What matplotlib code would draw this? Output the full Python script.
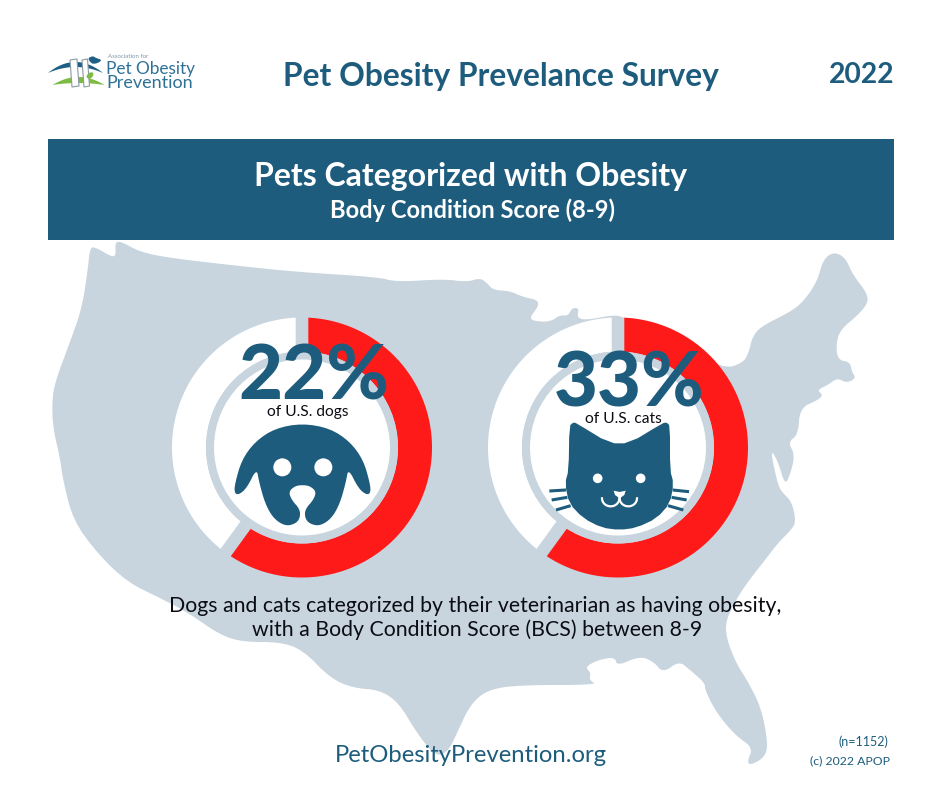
import numpy as np
import matplotlib
matplotlib.use("Agg")
import matplotlib.pyplot as plt
from matplotlib.patches import Polygon, Circle, Rectangle

# ---- data
pet_labels = ["22%", "33%"]
pet_captions = ["of U.S. dogs", "of U.S. cats"]
ring_share_red = [60.0, 60.0]      # drawn length of the red arc, percent of the ring
NAVY = "#1d5c7d"; MAP = "#c8d5de"; RED = "#ff1a1a"; INK = "#0c0c14"; LOGO = "#2f7196"

plt.rcParams['font.family'] = ['Lato', 'DejaVu Sans']
fig = plt.figure(figsize=(9.4, 7.88), dpi=100, facecolor="white")
ax = fig.add_axes([0, 0, 1, 1])
ax.set_xlim(0, 940); ax.set_ylim(788, 0); ax.axis("off")
def px(p): return p * 0.72

def chaikin(pts, n=1):
    pts = np.asarray(pts, float)
    for _ in range(n):
        nxt = np.roll(pts, -1, axis=0)
        pts = np.stack([0.75 * pts + 0.25 * nxt, 0.25 * pts + 0.75 * nxt], axis=1).reshape(-1, 2)
    return pts

map_outline = [
 (90,247),(97,248),(112,257),(116,255),(115,243),(120,241),(140,252),(170,258),(230,265),(297,272),
 (377,277),(397,282),(443,279),(467,282),(480,278),(487,283),(493,290),(510,291),(523,297),(538,300),
 (538,307),(530,317),(533,321),(550,322),(560,315),(568,316),(572,308),(579,308),(577,318),(587,320),
 (613,315),(624,317),(670,340),(723,369),(743,363),(749,352),(752,338),(760,327),(790,312),(803,302),
 (817,282),(823,260),(833,252),(845,257),(853,275),(867,293),(868,303),(858,315),(840,330),(836,345),
 (838,360),(850,362),(852,372),(856,378),(847,383),(837,378),(828,385),(817,390),(823,395),(818,400),
 (800,408),(798,435),(788,442),(795,455),(790,475),(785,485),(778,462),(772,451),(772,458),(778,485),
 (782,492),(792,502),(796,522),(791,530),(778,543),(765,560),(747,583),(736,600),(726,620),(726,637),
 (736,663),(747,680),(761,707),(768,743),(765,757),(751,765),(747,762),(753,748),(738,737),(728,727),
 (715,710),(705,690),(705,683),(690,670),(679,661),(663,673),(654,662),(640,656),(617,666),(615,657),
 (598,660),(585,667),(591,673),(589,680),(598,685),(518,685),(487,690),(470,705),(457,733),(449,750),
 (439,756),(430,750),(415,730),(399,703),(380,690),(353,688),(330,678),(303,650),(280,642),(243,642),
 (220,635),(187,612),(160,598),(127,582),(97,553),(73,520),(63,480),(60,458),(53,428),(52,402),(55,382),
 (70,342),(82,308),(88,268)]
ax.add_patch(Polygon(chaikin(map_outline, 2), closed=True, fc=MAP, ec="none", zorder=1))

# banner and titles
ax.add_patch(Rectangle((48, 139), 846, 101, fc=NAVY, ec="none", zorder=2))
ax.text(501, 76, "Pet Obesity Prevelance Survey", color=NAVY, fontsize=px(31.8), fontweight="bold", ha="center", va="center", zorder=5)
ax.text(862, 75, "2022", color=NAVY, fontsize=px(28.2), fontweight="bold", ha="center", va="center", zorder=5)
ax.text(470.5, 176, "Pets Categorized with Obesity", color="white", fontsize=px(32), fontweight="bold", ha="center", va="center", zorder=5)
ax.text(473, 210, "Body Condition Score (8-9)", color="white", fontsize=px(23.8), fontweight="bold", ha="center", va="center", zorder=5)

# logo
t = np.linspace(-1, 1, 40)
ax.add_patch(Polygon(np.r_[np.c_[75.5 + 27.5*t, 62 + 11*t**2], np.c_[(75.5 + 27.5*t)[::-1], (67 + 6*t**2)[::-1]]], fc="#1f5f85", ec="none", zorder=3))
ax.add_patch(Polygon(np.r_[np.c_[78.5 + 26*t, 77 + 8*t**2], np.c_[(78.5 + 26*t)[::-1], (83 + 2*t**2)[::-1]]], fc="#7dbb45", ec="none", zorder=3))
for x0, w in [(70, 7), (82, 5.5)]:
    ax.add_patch(Polygon([(x0, 60), (x0 + w, 59), (x0 + w + 2, 86), (x0 + 2, 87)], fc="white", ec="#8d9aa3", lw=0.8, zorder=4))
ax.add_patch(Polygon(chaikin([(88,58),(93,56),(96,58),(102,60),(98,63),(93,64),(90,62)], 1), fc="#1f5f85", ec="none", zorder=4))
ax.add_patch(Polygon(chaikin([(86,76),(90,72),(94,73),(92,78),(88,79)], 1), fc="#7dbb45", ec="none", zorder=4))
ax.text(108, 56, "Association for", color="#7f98a8", fontsize=px(6.2), ha="left", va="center", zorder=5)
ax.text(106.5, 69, "Pet Obesity", color=LOGO, fontsize=px(17.2), ha="left", va="center", zorder=5)
ax.text(106.5, 82.5, "Prevention", color=LOGO, fontsize=px(18), ha="left", va="center", zorder=5)

def sector(cx, cy, r_in, r_out, a0, a1, half_gap):
    """Ring sector with parallel-sided gaps; angles in degrees, clockwise from the top."""
    def arc(r, a, b):
        da = np.degrees(np.arcsin(half_gap / r))
        th = np.radians(np.linspace(a + da, b - da, 160))
        return np.c_[cx + r * np.sin(th), cy - r * np.cos(th)]
    return np.r_[arc(r_out, a0, a1), arc(r_in, a0, a1)[::-1]]

R_OUT, R_IN, R_GREY, GAP = 130, 96, 88, 6.3
CY = 447.5
centers = [302, 618]
for cx, share in zip(centers, ring_share_red):
    cut = 3.6 * share
    ax.add_patch(Polygon(sector(cx, CY, R_IN, R_OUT, cut, 360, GAP), fc="white", ec="none", zorder=3))
    ax.add_patch(Polygon(sector(cx, CY, R_IN, R_OUT, 0, cut, GAP), fc=RED, ec="none", zorder=3))
    ax.add_patch(Circle((cx, CY), R_IN, fc=MAP, ec="none", zorder=3))
    ax.add_patch(Circle((cx, CY), R_GREY, fc="white", ec="none", zorder=3))

# dog icon
def dz(p): return [(150 + x/3, 300 + y/3) for x, y in p]
dog = dz([(457,370),(540,385),(600,425),(640,480),(660,550),(662,578),(650,585),(625,565),(595,505),(588,545),
          (570,610),(545,655),(510,678),(480,672),(465,655),(465,628),(490,600),(499,575),(480,558),(457,555),
          (435,558),(416,575),(425,600),(450,628),(450,655),(435,672),(405,678),(370,655),(345,610),(327,545),
          (320,505),(290,565),(265,585),(253,578),(255,550),(275,480),(315,425),(375,385)])
ax.add_patch(Polygon(chaikin(dog, 2), fc=NAVY, ec="none", zorder=4))
for x, y in dz([(397,502),(520,502)]):
    ax.add_patch(Circle((x, y), 9, fc="white", ec="none", zorder=5))

# cat icon
def cz(p): return [(470 + x/3, 300 + y/3) for x, y in p]
cat = cz([(298,378),(310,367),(320,370),(418,430),(478,430),(577,370),(590,367),(600,378),(600,510),(611,550),
          (600,610),(560,655),(500,683),(448,690),(395,683),(340,655),(297,610),(285,550),(296,510)])
ax.add_patch(Polygon(chaikin(cat, 1), fc=NAVY, ec="none", zorder=4))
for x, y in cz([(383,535),(512,535)]):
    ax.add_patch(Circle((x, y), 4.8, fc="white", ec="none", zorder=5))
for a, b in [((238,573),(288,570)), ((245,600),(292,592)), ((258,630),(302,617)),
             ((608,570),(657,575)), ((605,592),(650,600)), ((594,617),(640,630))]:
    (x0, y0), (x1, y1) = cz([a, b])
    ax.plot([x0, x1], [y0, y1], color=NAVY, lw=2.2, solid_capstyle="butt", zorder=4)
ax.add_patch(Polygon(cz([(431,572),(449,576),(467,572),(463,585),(449,595),(435,585)]), fc="white", ec="none", zorder=5))
sm = np.linspace(0, np.pi, 30)
xs, ys = zip(*cz(list(zip(422 - 26*np.cos(sm), 595 + 24*np.sin(sm)))))
ax.plot(xs, ys, color="white", lw=1.6, zorder=5)
xs, ys = zip(*cz(list(zip(475 - 26*np.cos(sm), 595 + 24*np.sin(sm)))))
ax.plot(xs, ys, color="white", lw=1.6, zorder=5)

# big numbers and captions
big = [(314, 371), (629, 378)]
cap = [(307.5, 412), (623, 419)]
for (bx, by), (tx, ty), s, c in zip(big, cap, pet_labels, pet_captions):
    ax.text(bx, by, s, color=NAVY, fontsize=px(76), fontweight="black", ha="center", va="center_baseline", zorder=6)
    ax.text(tx, ty, c, color=INK, fontsize=px(15.5), ha="center", va="center", zorder=6)

# notes
ax.text(475, 606.5, "Dogs and cats categorized by their veterinarian as having obesity,", color=INK, fontsize=px(21.25), ha="center", va="center", zorder=6)
ax.text(477, 629.5, "with a Body Condition Score (BCS) between 8-9", color=INK, fontsize=px(21.25), ha="center", va="center", zorder=6)
ax.text(470.5, 755.5, "PetObesityPrevention.org", color=NAVY, fontsize=px(23.9), ha="center", va="center", zorder=6)
ax.text(888, 742, "(n=1152)", color=NAVY, fontsize=px(12.5), ha="right", va="center", zorder=6)
ax.text(890, 761, "(c) 2022 APOP", color=NAVY, fontsize=px(12.2), ha="right", va="center", zorder=6)

fig.savefig("out.png", dpi=100)
